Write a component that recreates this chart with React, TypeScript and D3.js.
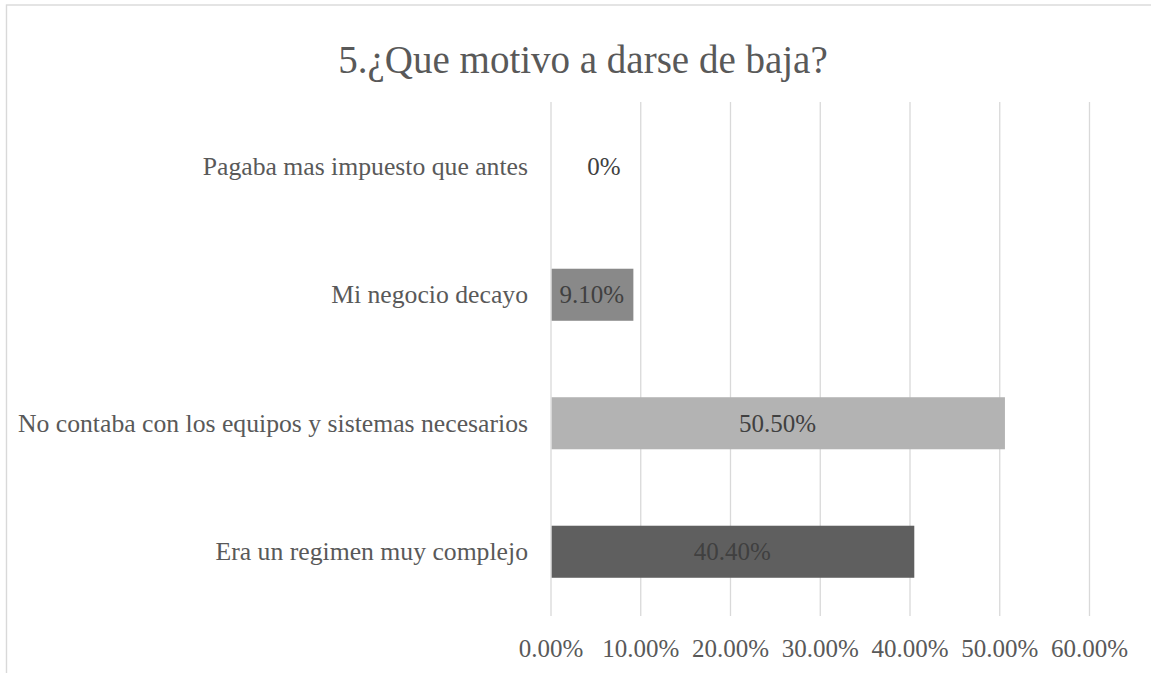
import React from "react";
import * as d3 from "d3";

const title = "5.¿Que motivo a darse de baja?";
const categories = [
  "Pagaba mas impuesto que antes",
  "Mi negocio decayo",
  "No contaba con los equipos y sistemas necesarios",
  "Era un regimen muy complejo",
];
const values = [0, 0.091, 0.505, 0.404];
const valueLabels = ["0%", "9.10%", "50.50%", "40.40%"];
const barColors = ["#ffffff", "#898989", "#b3b3b3", "#5f5f5f"];
const ticks = [0, 0.1, 0.2, 0.3, 0.4, 0.5, 0.6];

const W = 1151;
const H = 673;
const FONT = "'Liberation Serif', 'Times New Roman', serif";

export default function App() {
  const x = d3.scaleLinear().domain([0, 0.6]).range([551, 1089.5]);
  const y = d3.scaleBand<string>().domain(categories).range([102, 616]).padding(0);
  const bw = y.bandwidth();
  const barH = bw * 0.405;
  const fmt = d3.format(".2%");

  return (
    <svg
      width={W}
      height={H}
      style={{ position: "absolute", left: 0, top: 0, background: "#fff" }}
      fontFamily={FONT}
    >
      <rect x={6.5} y={5} width={W + 20} height={H + 20} fill="#fff" stroke="#d9d9d9" strokeWidth={1.4} />
      <text x={583} y={59} textAnchor="middle" dominantBaseline="central" fontSize={39} fill="#595959">
        {title}
      </text>
      {ticks.map((t) => (
        <line key={"g" + t} x1={x(t)} x2={x(t)} y1={102} y2={616} stroke="#d9d9d9" strokeWidth={1.3} />
      ))}
      {categories.map((c, i) => {
        const cy = (y(c) as number) + bw / 2;
        const x0 = x(0);
        const x1 = x(values[i]);
        const labelX = values[i] === 0 ? x0 + 53 : (x0 + x1) / 2;
        return (
          <g key={c}>
            {values[i] > 0 && (
              <rect x={x0 + 0.7} y={cy - barH / 2} width={x1 - x0} height={barH} fill={barColors[i]} />
            )}
            <text x={528} y={cy} textAnchor="end" dominantBaseline="central" fontSize={25.7} fill="#595959">
              {c}
            </text>
            <text x={labelX} y={cy} textAnchor="middle" dominantBaseline="central" fontSize={25} fill="#404040">
              {valueLabels[i]}
            </text>
          </g>
        );
      })}
      {ticks.map((t) => (
        <text key={"t" + t} x={x(t)} y={648} textAnchor="middle" dominantBaseline="central" fontSize={25} fill="#595959">
          {fmt(t)}
        </text>
      ))}
    </svg>
  );
}
